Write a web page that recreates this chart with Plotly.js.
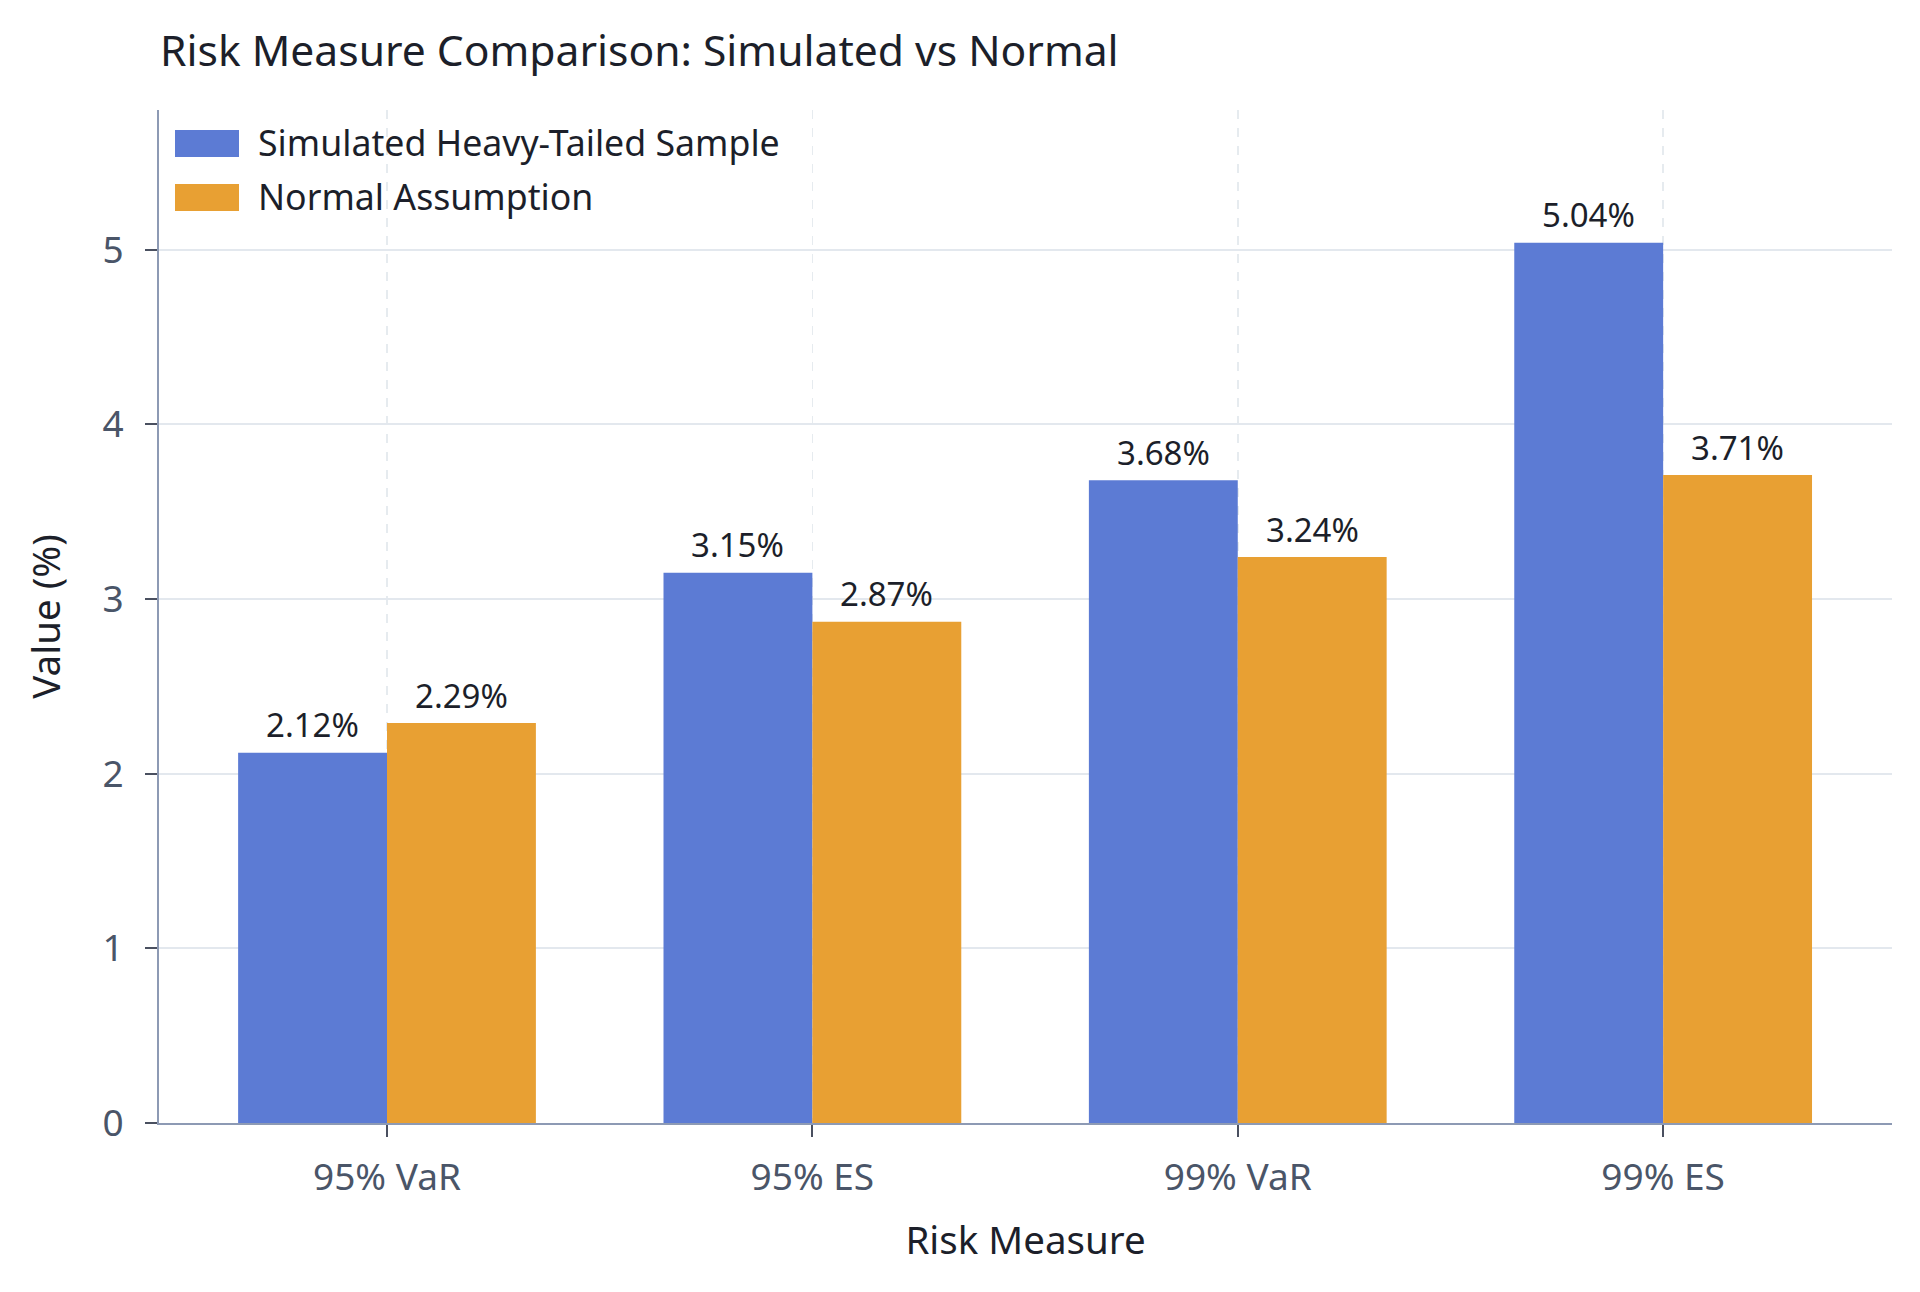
<!DOCTYPE html>
<html>
<head>
<meta charset="utf-8">
<script src="https://cdn.plot.ly/plotly-3.0.1.min.js"></script>
<style>
  html, body { margin: 0; padding: 0; background: #ffffff; }
  #chart { width: 1920px; height: 1292px; }
</style>
</head>
<body>
<div id="chart"></div>
<script>
// Risk measures compared across two return assumptions (values in %)
const categories = ['95% VaR', '95% ES', '99% VaR', '99% ES'];
const simulatedValues = [2.12, 3.15, 3.68, 5.04];
const normalValues = [2.29, 2.87, 3.24, 3.71];
const seriesNames = ['Simulated Heavy-Tailed Sample', 'Normal Assumption'];
const yTicks = [0, 1, 2, 3, 4, 5];

const FONT = '"Noto Sans", "Open Sans", sans-serif';
const BLUE = '#5c7bd4';
const ORANGE = '#e8a033';
const W = 1920, H = 1292;
const M = { l: 159, r: 28, t: 110, b: 169 };
const BAR_W = 0.35;

// pixel helpers for legend placement in paper space
const px2x = p => (p - M.l) / (W - M.l - M.r);
const px2y = p => (H - M.b - p) / (H - M.t - M.b);

const traces = [
  {
    type: 'bar', name: seriesNames[0], x: categories, y: simulatedValues,
    marker: { color: BLUE, line: { width: 0 } }, showlegend: false,
    hovertemplate: '%{x}: %{y:.2f}%<extra></extra>'
  },
  {
    type: 'bar', name: seriesNames[1], x: categories, y: normalValues,
    marker: { color: ORANGE, line: { width: 0 } }, showlegend: false,
    hovertemplate: '%{x}: %{y:.2f}%<extra></extra>'
  }
];

// value labels above each bar
const annotations = [];
[simulatedValues, normalValues].forEach((vals, s) => {
  vals.forEach((v, i) => {
    annotations.push({
      xref: 'x', yref: 'y', x: i + (s === 0 ? -BAR_W / 2 : BAR_W / 2), y: v,
      text: v.toFixed(2) + '%', showarrow: false,
      yanchor: 'middle', yshift: 28,
      font: { family: FONT, size: 33, color: '#1c1f2a' }
    });
  });
});

// legend: swatches + labels
const shapes = [];
const legendRows = [{ color: BLUE, top: 130, bottom: 157, mid: 142 }, { color: ORANGE, top: 184, bottom: 211, mid: 196 }];
legendRows.forEach((r, k) => {
  shapes.push({
    type: 'rect', xref: 'paper', yref: 'paper',
    x0: px2x(175), x1: px2x(239), y0: px2y(r.bottom), y1: px2y(r.top),
    fillcolor: r.color, line: { width: 0 }
  });
  annotations.push({
    xref: 'paper', yref: 'paper', x: px2x(256), y: px2y(r.mid),
    xanchor: 'left', yanchor: 'middle', showarrow: false,
    text: seriesNames[k], font: { family: FONT, size: 35.7, color: '#1c1f2a' }
  });
});

const layout = {
  width: W, height: H,
  margin: M,
  paper_bgcolor: '#ffffff', plot_bgcolor: '#ffffff',
  font: { family: FONT, color: '#4a5568' },
  barmode: 'group', bargap: 0.3, bargroupgap: 0,
  title: {
    text: 'Risk Measure Comparison: Simulated vs Normal',
    x: 160 / W, xanchor: 'left', xref: 'container',
    y: 1 - 51 / H, yanchor: 'middle', yref: 'container',
    font: { family: FONT, size: 42.6, color: '#1c1f2a' }
  },
  xaxis: {
    type: 'category', range: [-0.536, 3.538],
    showline: true, linecolor: '#8d9ab4', linewidth: 2,
    ticks: 'outside', ticklen: 12, tickwidth: 2, tickcolor: '#4a5060',
    showgrid: true, gridcolor: '#e6ebef', gridwidth: 1.5, griddash: 'dash',
    tickfont: { family: FONT, size: 37, color: '#4a5568' },
    ticklabelstandoff: 9,
    title: { text: 'Risk Measure', standoff: 27, font: { family: FONT, size: 38.5, color: '#1c1f2a' } },
    automargin: false, zeroline: false, fixedrange: true
  },
  yaxis: {
    range: [0, 5.8], tickvals: yTicks, ticktext: yTicks.map(String),
    showline: true, linecolor: '#8d9ab4', linewidth: 2,
    ticks: 'outside', ticklen: 12, tickwidth: 2, tickcolor: '#4a5060',
    showgrid: true, gridcolor: '#e3e8ee', gridwidth: 2,
    tickfont: { family: FONT, size: 37, color: '#4a5568' },
    ticklabelstandoff: 14,
    title: { text: 'Value (%)', standoff: 30, font: { family: FONT, size: 38.5, color: '#1c1f2a' } },
    automargin: false, zeroline: false, fixedrange: true
  },
  shapes: shapes,
  annotations: annotations,
  showlegend: false
};

Plotly.newPlot('chart', traces, layout, { displayModeBar: false, staticPlot: true });
</script>
</body>
</html>
